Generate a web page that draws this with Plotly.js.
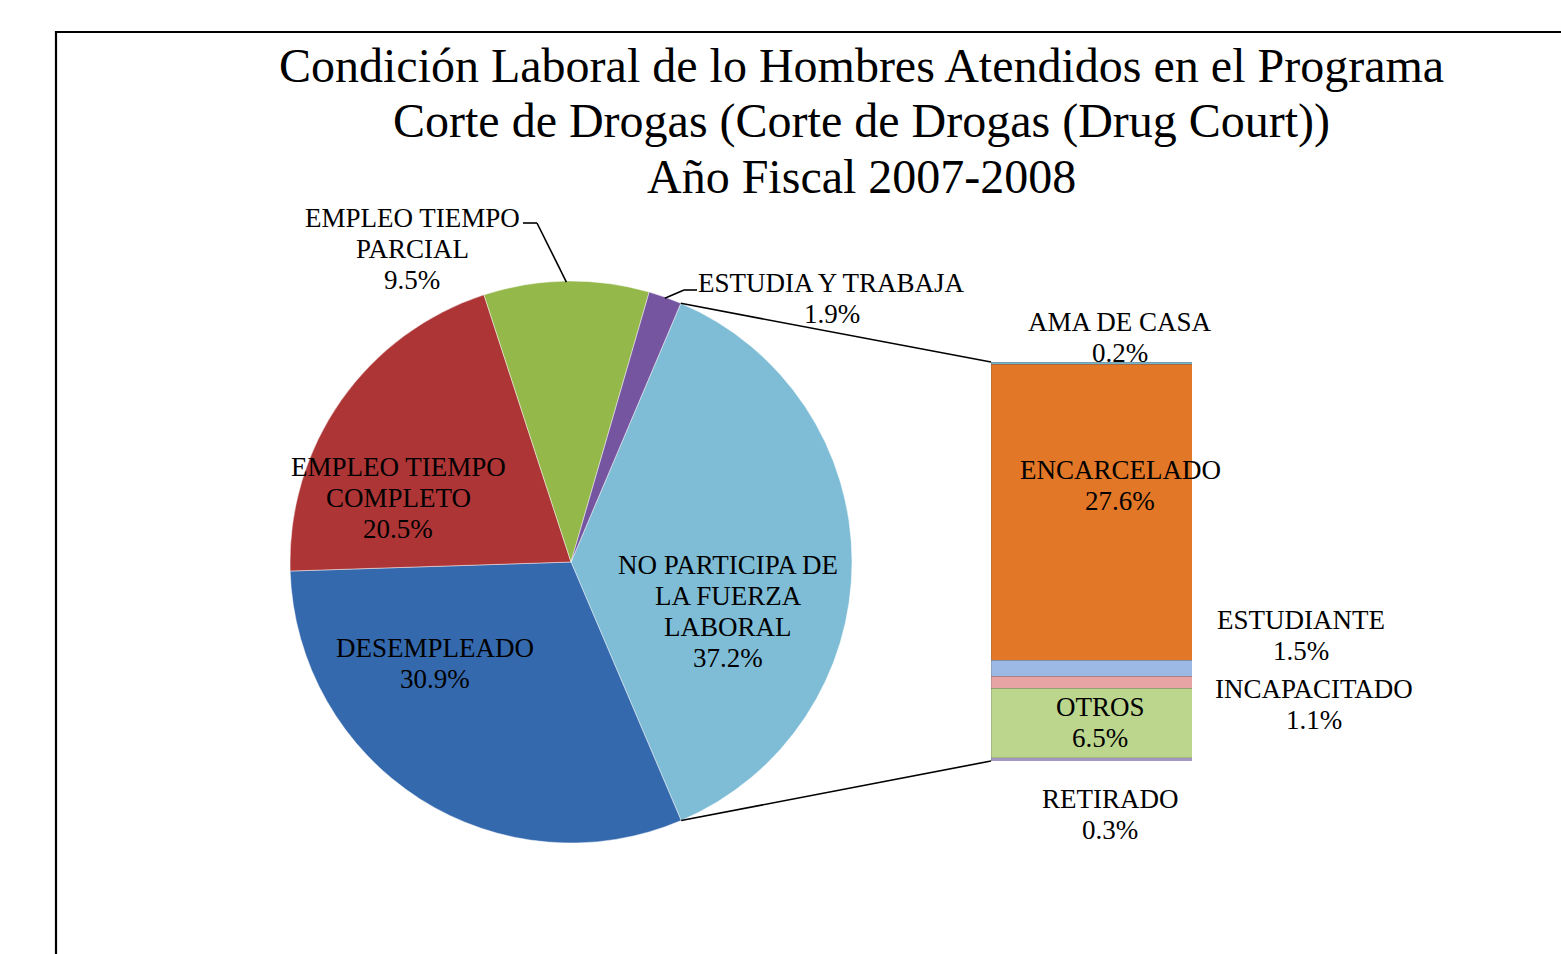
<!DOCTYPE html>
<html>
<head>
<meta charset="utf-8">
<script src="https://cdn.plot.ly/plotly-3.0.1.min.js"></script>
<style>html,body{margin:0;padding:0;background:#fff;}#chart{width:1561px;height:954px;}</style>
</head>
<body>
<div id="chart"></div>
<script>
// ---- data ----
var titleLines = ['Condición Laboral de lo Hombres Atendidos en el Programa',
                  'Corte de Drogas (Corte de Drogas (Drug Court))',
                  'Año Fiscal 2007-2008'];
var pieLabels = ['NO PARTICIPA DE<br>LA FUERZA<br>LABORAL', 'DESEMPLEADO', 'EMPLEO TIEMPO<br>COMPLETO', 'EMPLEO TIEMPO<br>PARCIAL', 'ESTUDIA Y TRABAJA'];
var pieValues = [37.2, 30.9, 20.5, 9.5, 1.9];
var pieColors = ['#7fbdd6', '#3569ad', '#ad3536', '#94b84a', '#7655a0'];
var barLabels = ['RETIRADO', 'OTROS', 'INCAPACITADO', 'ESTUDIANTE', 'ENCARCELADO', 'AMA DE CASA'];
var barValues = [0.3, 6.5, 1.1, 1.5, 27.6, 0.2];
var barColors = ['#a497c4', '#bcd68e', '#e6a4a4', '#9bb9e4', '#e27727', '#7ab5cc'];

// ---- layout geometry (pixels) ----
var W = 1561, H = 954;
function px(x) { return x / W; }
function py(y) { return 1 - y / H; }
var pieC = {x: 571, y: 562}, pieR = 281;
var rotation = 23;
var bar = {x0: 991, x1: 1192, top: 362, bottom: 761};
var FONT = 'Liberation Serif, Times New Roman, serif';

var pieLabelPos = [
  {x: 728, y: 565}, {x: 435, y: 648}, {x: 398, y: 467}, {x: 412, y: 218}, {x: 832, y: 283}
];
var barLabelPos = [
  {x: 1110, y: 799}, {x: 1100, y: 707}, {x: 1314, y: 689}, {x: 1301, y: 620}, {x: 1120, y: 470}, {x: 1120, y: 322}
];

var total = pieValues.reduce(function (a, b) { return a + b; }, 0);
var barTotal = barValues.reduce(function (a, b) { return a + b; }, 0);

var traces = [];
traces.push({
  type: 'pie',
  labels: pieLabels.map(function (l) { return l.replace(/<br>/g, ' '); }),
  values: pieValues,
  sort: false,
  direction: 'clockwise',
  rotation: rotation,
  textinfo: 'none',
  hoverinfo: 'none',
  marker: {colors: pieColors, line: {color: 'rgba(255,255,255,0.45)', width: 1}},
  domain: {x: [px(pieC.x - pieR), px(pieC.x + pieR)], y: [py(pieC.y + pieR), py(pieC.y - pieR)]},
  showlegend: false
});
for (var i = 0; i < barValues.length; i++) {
  traces.push({
    type: 'bar',
    x: [0],
    y: [barValues[i]],
    name: barLabels[i],
    width: [1],
    marker: {color: barColors[i], line: {color: 'rgba(90,90,90,0.35)', width: 0.7}},
    hoverinfo: 'none',
    showlegend: false,
    xaxis: 'x', yaxis: 'y'
  });
}

var annotations = [];
function addLines(lines, x, y, size, spacing) {
  lines.forEach(function (t, k) {
    annotations.push({
      xref: 'paper', yref: 'paper', x: px(x), y: py(y + k * spacing),
      xanchor: 'center', yanchor: 'middle', showarrow: false, text: t,
      font: {family: FONT, size: size, color: '#000'}
    });
  });
}
addLines(titleLines, 862, 66, 48, 55);
pieLabels.forEach(function (l, i) {
  addLines(l.split('<br>').concat([pieValues[i].toFixed(1) + '%']), pieLabelPos[i].x, pieLabelPos[i].y, 27, 31);
});
barLabels.forEach(function (l, i) {
  addLines([l, barValues[i].toFixed(1) + '%'], barLabelPos[i].x, barLabelPos[i].y, 27, 31);
});

// geometry from pie data
function arcPoint(deg, r) {
  var a = deg * Math.PI / 180;
  return {x: pieC.x + r * Math.sin(a), y: pieC.y - r * Math.cos(a)};
}
var cum = [rotation];
for (var j = 0; j < pieValues.length; j++) cum.push(cum[j] + pieValues[j] / total * 360);
var pTop = arcPoint(cum[0], pieR), pBot = arcPoint(cum[1], pieR);
var midParcial = arcPoint((cum[3] + cum[4]) / 2, pieR - 1);
var midEstudia = arcPoint((cum[4] + cum[5]) / 2, pieR - 1);

function seg(a, b) {
  return {type: 'line', xref: 'paper', yref: 'paper', x0: px(a.x), y0: py(a.y), x1: px(b.x), y1: py(b.y),
          line: {color: '#000', width: 1.6}};
}
var shapes = [
  {type: 'rect', xref: 'paper', yref: 'paper', x0: px(56), y0: py(1010), x1: px(1620), y1: py(32),
   line: {color: '#000', width: 2.2}, fillcolor: 'rgba(0,0,0,0)', layer: 'below'},
  seg(pTop, {x: bar.x0, y: bar.top}),
  seg(pBot, {x: bar.x0, y: bar.bottom}),
  seg({x: 523, y: 223}, {x: 537, y: 223}),
  seg({x: 537, y: 223}, midParcial),
  seg({x: 697, y: 290}, {x: 684, y: 290}),
  seg({x: 684, y: 290}, midEstudia)
];

var layout = {
  width: W, height: H,
  margin: {l: 0, r: 0, t: 0, b: 0},
  paper_bgcolor: '#fff', plot_bgcolor: 'rgba(0,0,0,0)',
  barmode: 'stack',
  bargap: 0,
  xaxis: {domain: [px(bar.x0), px(bar.x1)], range: [-0.5, 0.5], visible: false, fixedrange: true},
  yaxis: {domain: [py(bar.bottom), py(bar.top)], range: [0, barTotal], visible: false, fixedrange: true},
  annotations: annotations,
  shapes: shapes,
  showlegend: false
};

Plotly.newPlot('chart', traces, layout, {displayModeBar: false, staticPlot: true});
</script>
</body>
</html>
